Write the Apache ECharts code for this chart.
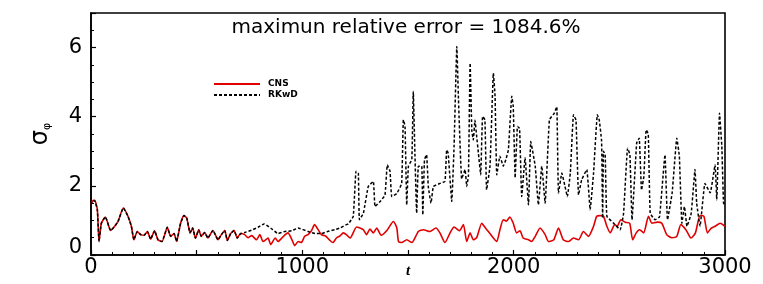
<!DOCTYPE html>
<html>
<head>
<meta charset="utf-8">
<script src="https://cdn.jsdelivr.net/npm/echarts@6/dist/echarts.min.js"></script>
<style>
html,body{margin:0;padding:0;background:#fff;}
#chart{width:763px;height:284px;}
</style>
</head>
<body>
<div id="chart"></div>
<script>
// ---- data ----
const titleText = 'maximun relative error = 1084.6%';
const seriesNames = ['CNS', 'RKwD'];
const xTickLabels = [0, 1000, 2000, 3000];
const yTickLabels = [0, 2, 4, 6];

// part where both curves coincide
const tShared = [0, 5, 17, 30, 38, 49, 68, 93, 112, 128, 153, 175, 191, 203, 219, 235, 251, 267, 282, 301, 317, 336, 361, 377, 393, 405, 424, 440, 453, 469, 481, 494, 510, 522, 538, 553, 577, 601, 617, 633, 645, 661, 677, 692, 708];
const yShared = [1.45, 1.55, 1.58, 1.31, 0.39, 0.92, 1.10, 0.71, 0.83, 0.97, 1.36, 1.12, 0.83, 0.44, 0.68, 0.59, 0.57, 0.68, 0.46, 0.70, 0.44, 0.39, 0.80, 0.54, 0.62, 0.39, 0.92, 1.14, 1.07, 0.64, 0.78, 0.49, 0.73, 0.54, 0.65, 0.49, 0.71, 0.44, 0.59, 0.71, 0.42, 0.62, 0.71, 0.49, 0.62];

// CNS after divergence
const tCNS = [727, 743, 760, 783, 799, 814, 838, 850, 872, 885, 903, 919, 932, 951, 964, 980, 995, 1011, 1027, 1043, 1058, 1074, 1090, 1110, 1131, 1145, 1162, 1178, 1194, 1210, 1226, 1257, 1289, 1304, 1320, 1336, 1352, 1373, 1399, 1431, 1447, 1455, 1470, 1494, 1518, 1549, 1573, 1604, 1632, 1651, 1675, 1699, 1718, 1743, 1762, 1778, 1794, 1809, 1825, 1849, 1864, 1880, 1904, 1920, 1935, 1951, 1966, 1982, 1998, 2014, 2030, 2045, 2070, 2085, 2102, 2125, 2149, 2165, 2190, 2212, 2235, 2259, 2283, 2307, 2330, 2354, 2378, 2393, 2410, 2425, 2441, 2457, 2478, 2490, 2507, 2528, 2549, 2563, 2580, 2596, 2615, 2638, 2654, 2680, 2701, 2724, 2748, 2772, 2791, 2815, 2839, 2860, 2882, 2900, 2917, 2935, 2953, 2977, 3000];
const yCNS = [0.59, 0.50, 0.56, 0.44, 0.59, 0.39, 0.49, 0.30, 0.49, 0.39, 0.49, 0.59, 0.64, 0.44, 0.27, 0.39, 0.36, 0.54, 0.59, 0.70, 0.88, 0.74, 0.59, 0.55, 0.42, 0.36, 0.50, 0.55, 0.64, 0.58, 0.49, 0.81, 0.73, 0.59, 0.75, 0.64, 0.78, 0.57, 0.70, 0.97, 0.78, 0.39, 0.36, 0.44, 0.36, 0.68, 0.73, 0.68, 0.78, 0.64, 0.36, 0.64, 0.81, 0.70, 0.88, 0.39, 0.64, 0.44, 0.50, 0.92, 0.80, 0.68, 0.49, 0.39, 0.73, 1.02, 0.98, 1.10, 0.92, 0.64, 0.70, 0.49, 0.44, 0.39, 0.54, 0.78, 0.59, 0.39, 0.44, 0.78, 0.44, 0.39, 0.49, 0.44, 0.68, 0.54, 0.83, 1.12, 1.14, 1.12, 0.83, 0.64, 0.88, 0.83, 1.02, 0.95, 0.92, 0.44, 0.64, 0.73, 0.64, 1.12, 0.92, 0.95, 0.92, 0.59, 0.50, 0.54, 0.88, 0.73, 0.49, 0.64, 1.14, 1.12, 0.64, 0.78, 0.83, 0.92, 0.83];

// RKwD after divergence
const tRKwD = [727, 760, 790, 819, 850, 885, 917, 950, 980, 1027, 1060, 1090, 1120, 1153, 1178, 1208, 1218, 1241, 1254, 1265, 1270, 1289, 1312, 1336, 1344, 1367, 1391, 1402, 1415, 1423, 1447, 1470, 1478, 1486, 1494, 1502, 1518, 1525, 1533, 1541, 1549, 1565, 1570, 1578, 1588, 1596, 1609, 1620, 1651, 1675, 1683, 1690, 1707, 1718, 1731, 1739, 1754, 1770, 1778, 1786, 1794, 1802, 1809, 1817, 1825, 1833, 1844, 1853, 1864, 1872, 1888, 1904, 1912, 1920, 1935, 1951, 1963, 1975, 1991, 1998, 2007, 2018, 2028, 2038, 2054, 2070, 2081, 2102, 2117, 2133, 2149, 2169, 2192, 2204, 2212, 2228, 2243, 2254, 2268, 2283, 2295, 2307, 2322, 2346, 2362, 2378, 2396, 2405, 2416, 2421, 2425, 2433, 2441, 2473, 2504, 2520, 2539, 2550, 2560, 2582, 2594, 2605, 2616, 2627, 2637, 2646, 2669, 2690, 2716, 2728, 2750, 2772, 2784, 2796, 2808, 2820, 2840, 2858, 2866, 2882, 2905, 2930, 2953, 2961, 2974, 2985, 2993, 3000];
const yRKwD = [0.65, 0.72, 0.80, 0.90, 0.78, 0.62, 0.68, 0.70, 0.78, 0.68, 0.62, 0.62, 0.68, 0.73, 0.78, 0.88, 0.90, 1.12, 2.42, 2.37, 1.02, 1.21, 1.98, 2.13, 1.40, 1.54, 1.73, 2.61, 2.42, 1.69, 1.78, 2.07, 3.91, 3.72, 1.45, 2.57, 2.76, 4.73, 2.86, 1.21, 2.57, 2.57, 1.16, 2.76, 2.90, 1.98, 1.50, 1.98, 2.07, 2.13, 3.04, 2.95, 1.55, 3.14, 6.03, 4.48, 2.20, 2.47, 1.98, 2.30, 5.55, 3.60, 3.33, 3.90, 3.43, 2.95, 2.32, 4.01, 3.91, 1.89, 2.57, 5.26, 4.59, 2.32, 2.86, 2.57, 2.76, 3.04, 4.59, 4.30, 2.23, 3.72, 3.66, 1.69, 2.81, 1.45, 3.28, 2.57, 1.45, 2.57, 1.50, 3.91, 4.10, 4.29, 1.79, 2.37, 1.98, 1.69, 2.37, 4.06, 3.90, 1.74, 2.18, 2.47, 1.31, 2.37, 4.06, 3.90, 3.30, 1.07, 3.00, 2.90, 1.12, 0.92, 0.73, 1.20, 3.09, 2.90, 1.02, 3.24, 3.38, 1.88, 2.27, 3.62, 3.50, 1.21, 1.02, 1.10, 2.90, 1.02, 1.80, 3.38, 2.86, 0.92, 1.40, 0.83, 1.20, 2.47, 1.50, 0.83, 2.07, 1.80, 2.61, 1.60, 4.10, 3.14, 1.50, 1.45];

function pairs(ts, ys) { return ts.map((t, i) => [t, ys[i]]); }
const dataCNS = pairs(tShared, yShared).concat(pairs(tCNS, yCNS));
const dataRKwD = pairs(tShared, yShared).concat(pairs(tRKwD, yRKwD));

const chart = echarts.init(document.getElementById('chart'), null, {renderer: 'canvas'});
const FONT = 'DejaVu Sans';
chart.setOption({
  animation: false,
  backgroundColor: '#fff',
  grid: {left: 91, right: 38, top: 13, bottom: 29, containLabel: false, outerBoundsMode: 'none',
    show: true, borderColor: '#000', borderWidth: 1.6, backgroundColor: 'transparent'},
  graphic: [{
    type: 'text', x: 406, y: 28,
    style: {text: titleText, font: '20px "DejaVu Sans"', fill: '#000', textAlign: 'center', textVerticalAlign: 'middle'}
  }],
  legend: {
    left: 213, top: 79, orient: 'vertical', itemWidth: 46, itemHeight: 10, itemGap: 1, padding: 0,
    itemStyle: {color: 'rgba(0,0,0,0)', borderColor: 'rgba(0,0,0,0)', borderWidth: 0},
    data: seriesNames,
    textStyle: {fontFamily: FONT, fontWeight: 'bold', fontSize: 9, color: '#000', padding: [0, 0, 0, 3], lineHeight: 10}
  },
  xAxis: {
    type: 'value', min: 0, max: 3000, interval: 500,
    name: 't', nameLocation: 'middle', nameGap: 9, nameMoveOverlap: false,
    nameTextStyle: {fontFamily: 'Liberation Serif', fontStyle: 'italic', fontWeight: 'bold', fontSize: 15, color: '#000'},
    axisLine: {show: true, onZero: false, lineStyle: {color: '#000', width: 1.6}},
    axisTick: {show: true, inside: true, length: 5, lineStyle: {color: '#000', width: 1.2}},
    minorTick: {show: true, splitNumber: 5, length: 3, lineStyle: {color: '#000', width: 1}},
    axisLabel: {margin: 2, fontFamily: FONT, fontSize: 21, color: '#000',
      formatter: v => (xTickLabels.indexOf(v) >= 0 ? String(v) : '')},
    splitLine: {show: false}
  },
  yAxis: [{
    type: 'value', min: 0, max: 7, interval: 2, position: 'left',
    name: '{s|σ}{p|φ}', nameLocation: 'middle', nameGap: 38, nameRotate: 90, nameMoveOverlap: false,
    nameTextStyle: {color: '#000', rich: {
      s: {fontFamily: FONT, fontSize: 24, color: '#000'},
      p: {fontFamily: FONT, fontSize: 11, color: '#000', verticalAlign: 'bottom'}
    }},
    axisLine: {show: true, onZero: false, lineStyle: {color: '#000', width: 1.6}},
    axisTick: {show: true, inside: true, length: 5, lineStyle: {color: '#000', width: 1.2}},
    axisLabel: {margin: 9, fontFamily: FONT, fontSize: 21, color: '#000',
      formatter: v => (v === 0 ? '{z|0}' : (yTickLabels.indexOf(v) >= 0 ? String(v) : '')),
      rich: {z: {fontFamily: FONT, fontSize: 21, color: '#000', padding: [0, 0, 15, 0]}}},
    splitLine: {show: false}
  }, {
    type: 'value', min: 0, max: 7, interval: 0.5, position: 'left', offset: 0,
    axisLine: {show: false},
    axisTick: {show: true, inside: true, length: 3, lineStyle: {color: '#000', width: 1}},
    axisLabel: {show: false},
    splitLine: {show: false}
  }],
  series: [{
    name: seriesNames[0], type: 'line', data: dataCNS, yAxisIndex: 0,
    symbol: 'none', smooth: 0.2,
    lineStyle: {color: '#e00000', width: 1.6}, itemStyle: {color: '#e00000'}
  }, {
    name: seriesNames[1], type: 'line', data: dataRKwD, yAxisIndex: 0,
    symbol: 'none', smooth: 0.1,
    lineStyle: {color: '#000', width: 1.5, type: [3, 2]}, itemStyle: {color: '#000'}
  }]
});
</script>
</body>
</html>
